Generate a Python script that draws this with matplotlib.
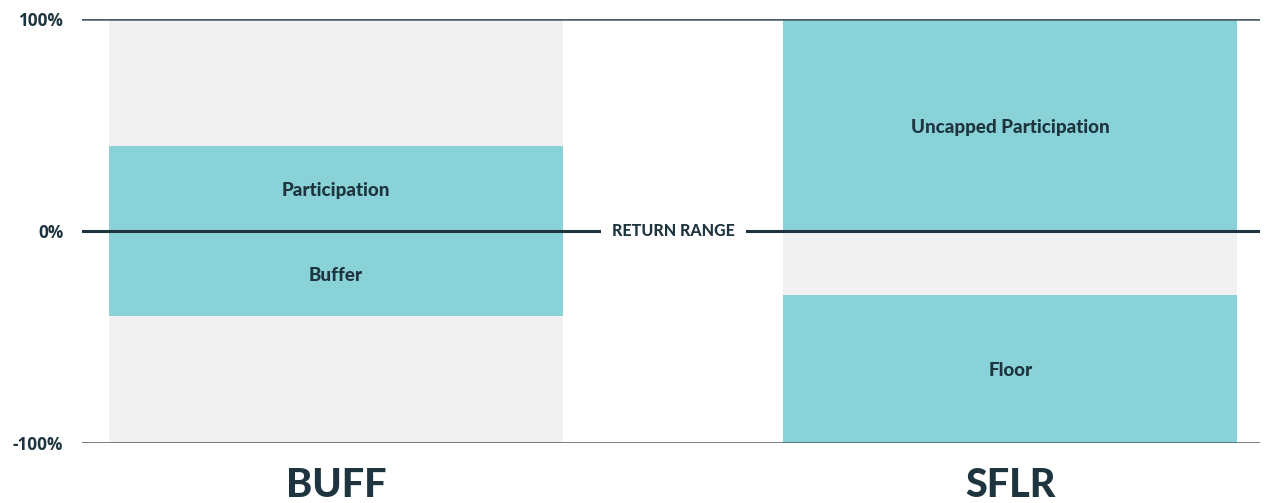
import matplotlib.pyplot as plt
from matplotlib.ticker import FixedLocator

# data
funds = ['BUFF', 'SFLR']
range_low = [-100, -100]
range_high = [100, 100]
seg_funds = ['BUFF', 'BUFF', 'SFLR', 'SFLR']
seg_low = [0, -40, 0, -100]
seg_high = [40, 0, 100, -30]
seg_labels = ['Participation', 'Buffer', 'Uncapped Participation', 'Floor']
yticks = [-100, 0, 100]
ytick_labels = ['-100%', '0%', '100%']

gray = '#f0f1f0'
teal = '#89d2d7'
dark = '#1e3540'

fig = plt.figure(figsize=(12.68, 5.03), dpi=100)
ax = fig.add_axes([82 / 1268, 1 - 443 / 503, 1178 / 1268, 424 / 503])

xpos = {f: i for i, f in enumerate(funds)}
width = 0.673

for f, lo, hi in zip(funds, range_low, range_high):
    ax.bar(xpos[f], hi - lo, bottom=lo, width=width, color=gray, zorder=1)

for f, lo, hi, lab in zip(seg_funds, seg_low, seg_high, seg_labels):
    ax.bar(xpos[f], hi - lo, bottom=lo, width=width, color=teal, zorder=2)
    ax.text(xpos[f], (lo + hi) / 2 - 1, lab, ha='center', va='center', color=dark,
            fontsize=13.5, fontweight='black', family='Lato', zorder=4)

ax.axhline(100, color='#4a5c63', lw=1.8, zorder=3)
ax.axhline(-100, color='#4a5c63', lw=1.8, zorder=3)
ax.axhline(0, color=dark, lw=2.2, zorder=3)
ax.text(0.5, 0, 'RETURN RANGE', ha='center', va='center', color=dark, fontsize=11.5,
        fontweight='black', family='Lato', zorder=5,
        bbox=dict(facecolor='white', edgecolor='none', pad=8))

ax.set_xlim(-0.3766, 1.370)
ax.set_ylim(-100, 100)
ax.yaxis.set_major_locator(FixedLocator(yticks))
ax.set_yticklabels(ytick_labels, fontsize=12.3, fontweight='bold', color=dark, family='Open Sans')
ax.tick_params(axis='y', length=0, pad=13.5)
ax.set_xticks(range(len(funds)))
ax.set_xticklabels(funds, fontsize=28.5, fontweight='black', color=dark, family='Lato')
ax.tick_params(axis='x', length=0, pad=17)
for s in ax.spines.values():
    s.set_visible(False)

fig.savefig('out.png', dpi=100)
